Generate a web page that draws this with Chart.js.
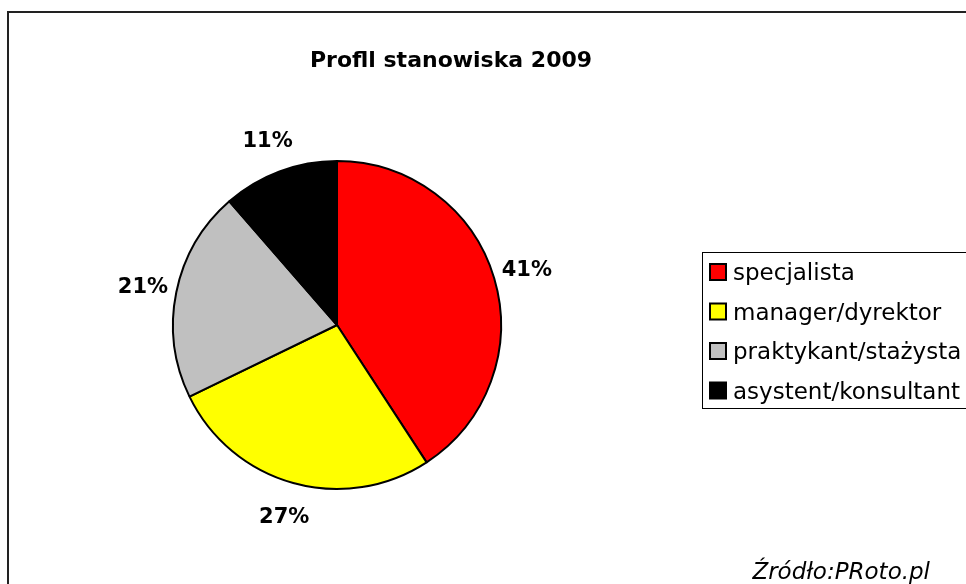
<!DOCTYPE html>
<html>
<head>
<meta charset="utf-8">
<script src="https://cdn.jsdelivr.net/npm/chart.js@4/dist/chart.umd.min.js"></script>
<style>
  html, body { margin: 0; padding: 0; background: #fff; overflow: hidden; }
  #wrap { position: relative; width: 966px; height: 584px; }
</style>
</head>
<body>
<div id="wrap"><canvas id="pie" width="966" height="584"></canvas></div>
<script>
// Data
const categories = ['specjalista', 'manager/dyrektor', 'praktykant/stażysta', 'asystent/konsultant'];
const shares = [40.8, 27.0, 20.8, 11.4];
const sliceColors = ['#FF0000', '#FFFF00', '#C0C0C0', '#000000'];
const chartTitle = 'Profll stanowiska 2009';
const sourceText = 'Źródło:PRoto.pl';

const FONT = "'DejaVu Sans', 'Liberation Sans', Arial, sans-serif";

// frame, title, percent labels, legend and source note
const decor = {
  id: 'decor',
  beforeDraw(chart) {
    const ctx = chart.ctx;
    ctx.save();
    ctx.fillStyle = '#fff';
    ctx.fillRect(0, 0, chart.width, chart.height);
    ctx.strokeStyle = '#222';
    ctx.lineWidth = 2;
    ctx.strokeRect(8, 12, 1000, 700);
    ctx.restore();
  },
  afterDraw(chart) {
    const ctx = chart.ctx;
    ctx.save();
    ctx.fillStyle = '#000';

    // title
    ctx.font = 'bold 22px ' + FONT;
    ctx.textAlign = 'center';
    ctx.textBaseline = 'alphabetic';
    ctx.fillText(chartTitle, 451, 67);

    // percent labels outside each slice
    const total = shares.reduce((a, b) => a + b, 0);
    const meta = chart.getDatasetMeta(0);
    ctx.font = 'bold 21px ' + FONT;
    ctx.textAlign = 'center';
    meta.data.forEach((arc, i) => {
      const p = arc.getProps(['x', 'y', 'startAngle', 'endAngle', 'outerRadius'], true);
      const mid = (p.startAngle + p.endAngle) / 2;
      const txt = Math.round(shares[i] / total * 100) + '%';
      const d = p.outerRadius + 34;
      const cx = p.x + Math.cos(mid) * d;
      const cy = p.y + Math.sin(mid) * d;
      ctx.fillText(txt, cx, cy + 7.5);
    });

    // legend
    ctx.strokeStyle = '#000';
    ctx.lineWidth = 1;
    ctx.strokeRect(702.5, 252.5, 300, 156);
    ctx.font = '23px ' + FONT;
    ctx.textAlign = 'left';
    categories.forEach((c, i) => {
      const base = 280 + i * 39.5;
      ctx.fillStyle = sliceColors[i];
      ctx.fillRect(710, base - 16, 16, 16);
      ctx.lineWidth = 2;
      ctx.strokeRect(710, base - 16, 16, 16);
      ctx.fillStyle = '#000';
      ctx.fillText(c, 733, base);
    });

    // source
    ctx.font = 'italic 23px ' + FONT;
    ctx.textAlign = 'right';
    ctx.fillText(sourceText, 930, 579);
    ctx.restore();
  }
};

new Chart(document.getElementById('pie'), {
  type: 'pie',
  data: {
    labels: categories,
    datasets: [{
      data: shares,
      backgroundColor: sliceColors,
      borderColor: '#000',
      borderWidth: 2
    }]
  },
  options: {
    responsive: false,
    animation: false,
    layout: { padding: { left: 172, right: 464, top: 160, bottom: 94 } },
    plugins: {
      legend: { display: false },
      tooltip: { enabled: false },
      title: { display: false }
    }
  },
  plugins: [decor]
});
</script>
</body>
</html>
